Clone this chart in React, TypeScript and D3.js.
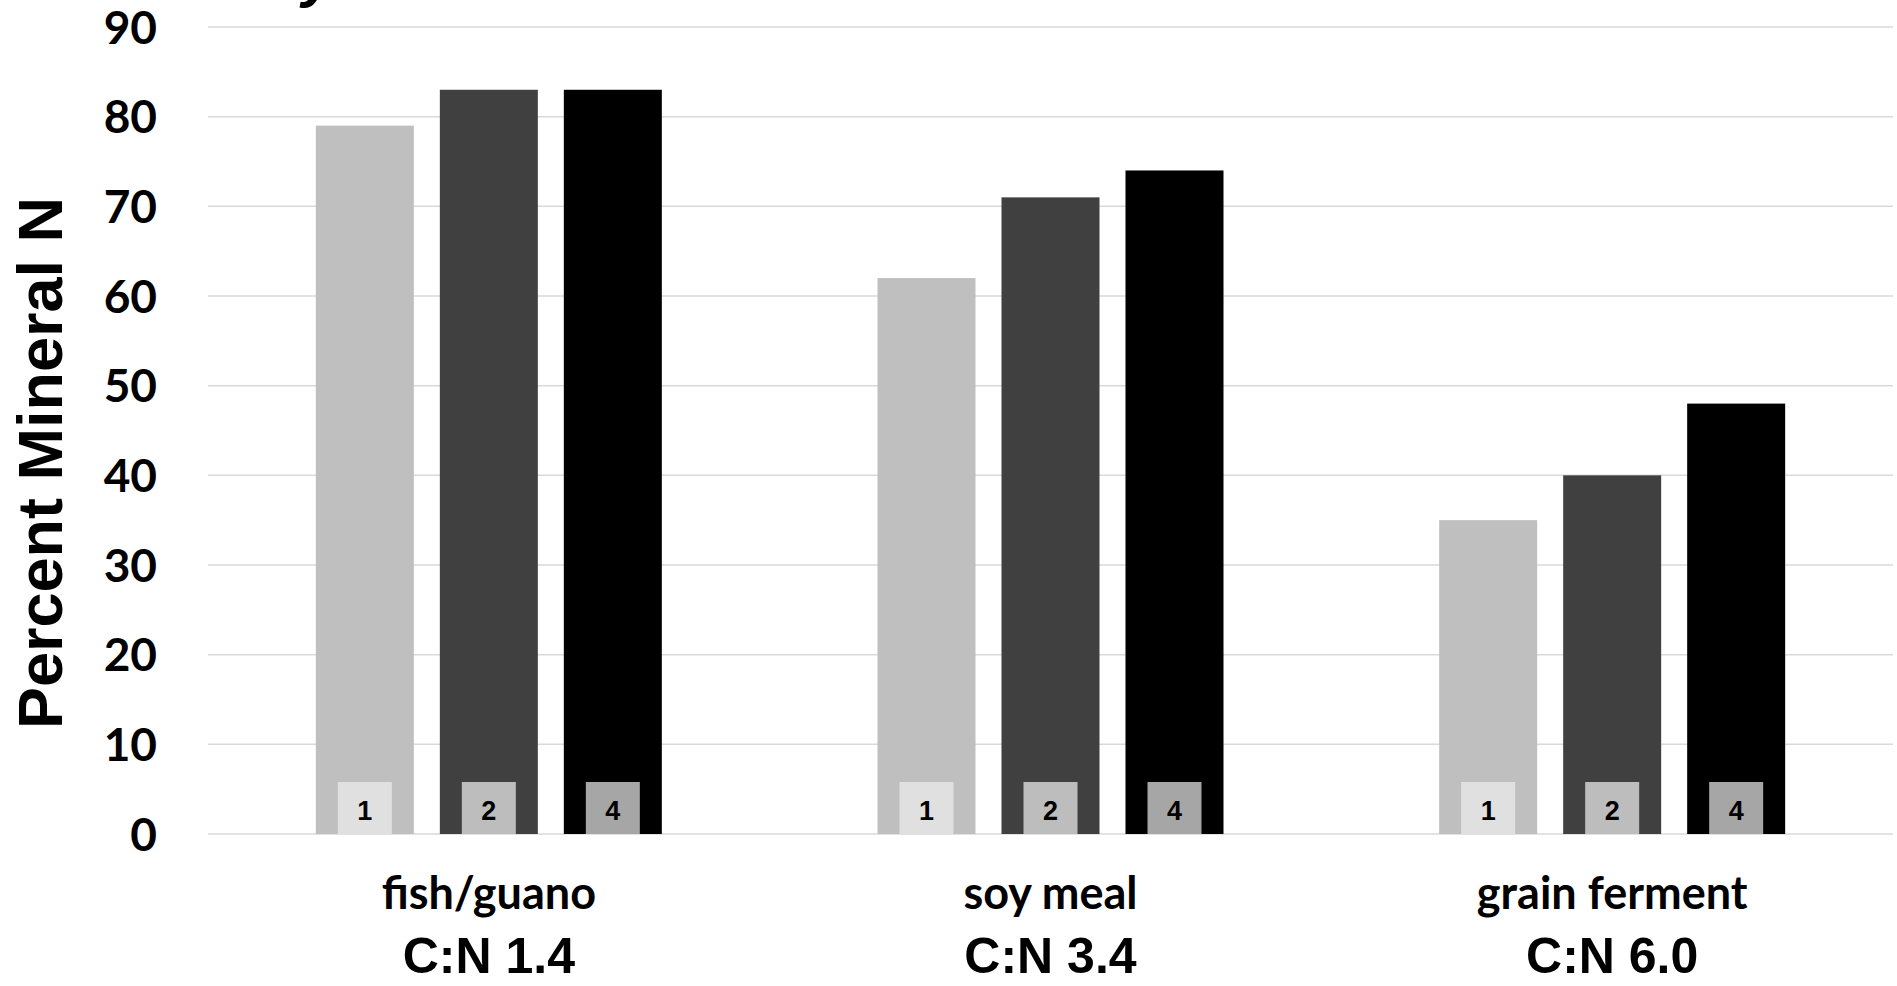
import React from "react";
import * as d3 from "d3";

const categories = ["fish/guano", "soy meal", "grain ferment"];
const ratioLabels = ["C:N 1.4", "C:N 3.4", "C:N 6.0"];
const seriesNames = ["1", "2", "4"];
const series1 = [79, 62, 35];
const series2 = [83, 71, 40];
const series4 = [83, 74, 48];
const yTicks = [0, 10, 20, 30, 40, 50, 60, 70, 80, 90];

const seriesValues = [series1, series2, series4];
const barColors = ["#BFBFBF", "#404040", "#000000"];
const boxColors = ["#E0E0E0", "#BDBDBD", "#A6A6A6"];

const W = 1897;
const H = 986;

export default function App() {
  const x0 = d3.scaleBand<string>().domain(categories).range([208, 1893]);
  const groupW = 346;
  const x1 = d3
    .scaleBand<string>()
    .domain(seriesNames)
    .range([0, groupW])
    .paddingInner(26 / 124)
    .paddingOuter(0);
  const y = d3.scaleLinear().domain([0, 90]).range([834, 27]);
  const groupOffset = (x0.bandwidth() - groupW) / 2;
  const boxW = 54;
  const boxH = 52;

  return (
    <svg
      width={W}
      height={H}
      style={{ position: "absolute", left: 0, top: 0, display: "block", background: "#fff" }}
    >
      <rect x={0} y={0} width={W} height={H} fill="#fff" />
      {/* cropped title fragment */}
      <text
        x={302}
        y={-4}
        fontFamily="'Liberation Sans', Arial, sans-serif"
        fontWeight="bold"
        fontStyle="italic"
        fontSize={60}
        fill="#000"
      >
        y
      </text>
      {yTicks.map((t) => (
        <g key={t}>
          <line
            x1={208}
            x2={1893}
            y1={y(t)}
            y2={y(t)}
            stroke="#D9D9D9"
            strokeWidth={1.5}
          />
          <text
            x={157}
            y={y(t)}
            dy="0.36em"
            textAnchor="end"
            fontFamily="Lato, 'Open Sans', sans-serif"
            fontWeight="bold"
            fontSize={46}
            fill="#000"
          >
            {t}
          </text>
        </g>
      ))}
      {categories.map((c, ci) => {
        const gx = (x0(c) as number) + groupOffset;
        return (
          <g key={c}>
            {seriesNames.map((s, si) => {
              const v = seriesValues[si][ci];
              const bx = gx + (x1(s) as number);
              const bw = x1.bandwidth();
              const cx = bx + bw / 2;
              return (
                <g key={s}>
                  <rect
                    x={bx}
                    y={y(v)}
                    width={bw}
                    height={y(0) - y(v)}
                    fill={barColors[si]}
                  />
                  <rect
                    x={cx - boxW / 2}
                    y={y(0) - boxH}
                    width={boxW}
                    height={boxH}
                    fill={boxColors[si]}
                  />
                  <text
                    x={cx}
                    y={y(0) - boxH / 2 + 2}
                    dy="0.36em"
                    textAnchor="middle"
                    fontFamily="'Liberation Sans', Arial, sans-serif"
                    fontWeight="bold"
                    fontSize={27}
                    fill="#000"
                  >
                    {s}
                  </text>
                </g>
              );
            })}
            <text
              x={(x0(c) as number) + x0.bandwidth() / 2}
              y={909}
              textAnchor="middle"
              fontFamily="Lato, 'Open Sans', sans-serif"
              fontWeight="bold"
              fontSize={45}
              fill="#000"
            >
              {c}
            </text>
            <text
              x={(x0(c) as number) + x0.bandwidth() / 2}
              y={973}
              textAnchor="middle"
              fontFamily="'Liberation Sans', Arial, sans-serif"
              fontWeight="bold"
              fontSize={50}
              fill="#000"
            >
              {ratioLabels[ci]}
            </text>
          </g>
        );
      })}
      <text
        transform="translate(62,463) rotate(-90)"
        textAnchor="middle"
        fontFamily="'Liberation Sans', Arial, sans-serif"
        fontWeight="bold"
        fontSize={63}
        fill="#000"
      >
        Percent Mineral N
      </text>
    </svg>
  );
}
